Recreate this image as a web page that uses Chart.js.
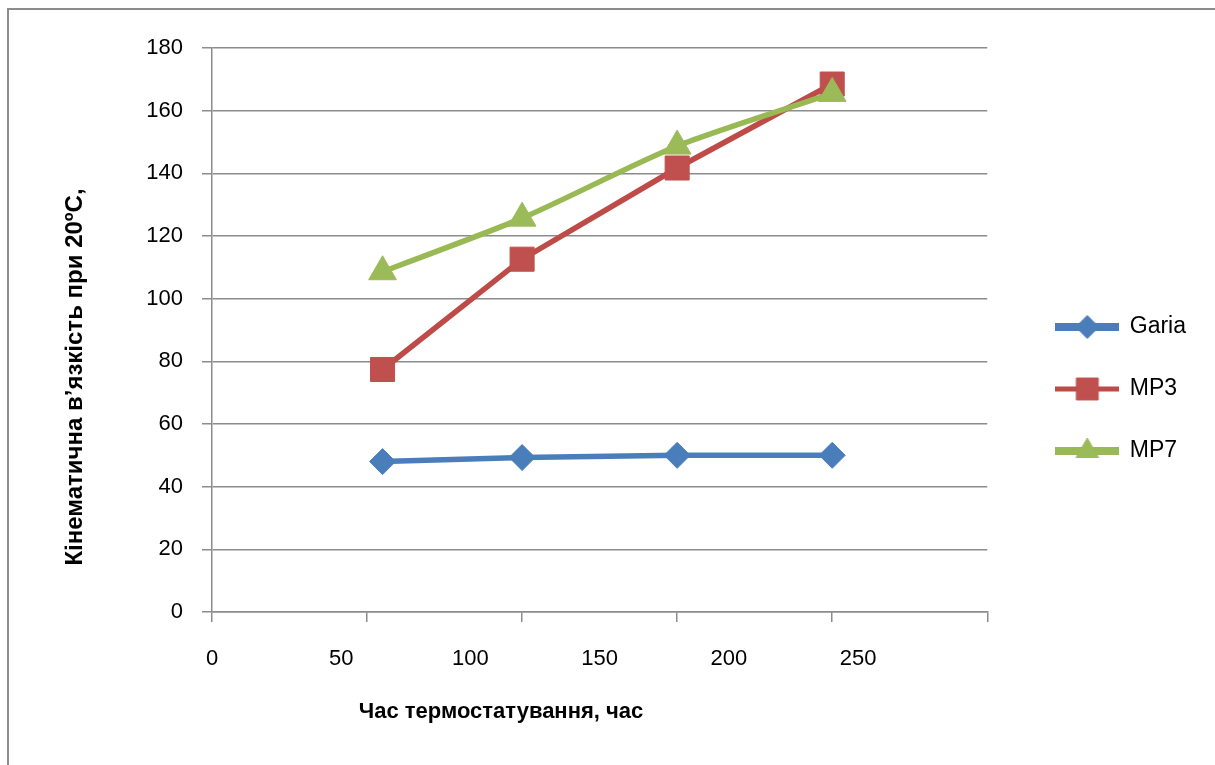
<!DOCTYPE html>
<html lang="uk">
<head>
<meta charset="utf-8">
<title>Кінематична в’язкість</title>
<script src="https://cdn.jsdelivr.net/npm/chart.js@4.4.1/dist/chart.umd.min.js"></script>
<style>
  html, body { margin: 0; padding: 0; background: #fff; overflow: hidden; }
  #wrap { position: relative; width: 1215px; height: 765px; }
  #frame {
    position: absolute; left: 7px; top: 8px; width: 1300px; height: 900px;
    border-left: 2px solid #8c8c8c; border-top: 2px solid #8c8c8c;
    pointer-events: none;
  }
  canvas { position: absolute; left: 0; top: 0; }
</style>
</head>
<body>
<div id="wrap">
  <canvas id="chart" width="1215" height="765"></canvas>
  <div id="frame"></div>
</div>
<script>
// Thermostating time, hours
const hours = [66, 120, 180, 240];

// Kinematic viscosity at 20 °C for each sample
const seriesNames = ['Garia', 'MP3', 'MP7'];
const gariaValues = [48.0, 49.3, 50.0, 50.0];
const mp3Values   = [77.4, 112.6, 141.7, 168.5];
const mp7Values   = [108.6, 125.7, 148.7, 165.5];

// Axis tick labels
const xTickValues = [0, 50, 100, 150, 200, 250];
const xTickMarks  = [0, 60, 120, 180, 240, 300];
const yTickValues = [0, 20, 40, 60, 80, 100, 120, 140, 160, 180];

const xTitle = 'Час термостатування, час';
const yTitle = 'Кінематична в’язкість при 20ºC,';

const GRID = '#8c8c8c';
const TICK_FONT = { family: '"Liberation Sans", Arial, sans-serif', size: 22 };
const LEGEND_FONT = { family: '"Liberation Sans", Arial, sans-serif', size: 23 };
const X_TITLE_FONT = 'bold 22px "Liberation Sans", Arial, sans-serif';
const Y_TITLE_FONT = 'bold 24px "Liberation Sans", Arial, sans-serif';

const styles = [
  { line: '#4A7EBB', mark: '#4A7EBB', shape: 'rectRot', r: 13, legendR: 11.5, legendLine: 8 },
  { line: '#BE4B48', mark: '#C0504D', shape: 'rect',    r: 17, legendR: 15.5, legendLine: 5 },
  { line: '#98B954', mark: '#9BBB59', shape: 'triangle', r: 16, legendR: 13,  legendLine: 8 }
];

// Legend icons: a short line segment with the series marker on it
function legendIcon(st) {
  const c = document.createElement('canvas');
  c.width = 64; c.height = 32;
  const g = c.getContext('2d');
  g.strokeStyle = st.line;
  g.lineWidth = st.legendLine;
  g.beginPath(); g.moveTo(0, 16); g.lineTo(64, 16); g.stroke();
  g.fillStyle = st.mark;
  g.strokeStyle = st.mark;
  g.lineWidth = 1;
  Chart.helpers.drawPoint(g, { pointStyle: st.shape, radius: st.legendR, borderWidth: 1, rotation: 0 }, 32, 16);
  return c;
}
const icons = styles.map(legendIcon);

function toPoints(values) {
  return values.map((v, i) => ({ x: hours[i], y: v }));
}

const seriesValues = [gariaValues, mp3Values, mp7Values];
const datasets = seriesValues.map((vals, i) => ({
  label: seriesNames[i],
  data: toPoints(vals),
  borderColor: styles[i].line,
  backgroundColor: styles[i].mark,
  borderWidth: 5.5,
  pointStyle: styles[i].shape,
  pointRadius: styles[i].r,
  pointHoverRadius: styles[i].r,
  pointBackgroundColor: styles[i].mark,
  pointBorderColor: styles[i].mark,
  pointBorderWidth: 1,
  tension: i === 2 ? 0.25 : 0,
  order: 3 - i,
  xAxisID: 'x',
  yAxisID: 'y'
}));

// Axis titles placed relative to the plot area
const axisTitles = {
  id: 'axisTitles',
  afterDraw(chart) {
    const { ctx, chartArea } = chart;
    ctx.save();
    ctx.fillStyle = '#000';
    ctx.textAlign = 'center';
    ctx.textBaseline = 'middle';
    ctx.font = X_TITLE_FONT;
    ctx.fillText(xTitle, chartArea.left + 289, chartArea.bottom + 100);
    ctx.font = Y_TITLE_FONT;
    ctx.translate(chartArea.left - 137, chartArea.top + 329);
    ctx.rotate(-Math.PI / 2);
    ctx.fillText(yTitle, 0, 0);
    ctx.restore();
  }
};

new Chart(document.getElementById('chart'), {
  type: 'line',
  data: { datasets },
  plugins: [axisTitles],
  options: {
    responsive: false,
    animation: false,
    devicePixelRatio: 1,
    layout: { padding: { top: 48, left: 0, right: 19, bottom: 35 } },
    plugins: {
      tooltip: { enabled: false },
      legend: {
        position: 'right',
        labels: {
          usePointStyle: true,
          pointStyleWidth: 62,
          padding: 39,
          color: '#000',
          font: LEGEND_FONT,
          sort: (a, b) => a.datasetIndex - b.datasetIndex,
          generateLabels(chart) {
            const items = Chart.defaults.plugins.legend.labels.generateLabels(chart);
            items.forEach(it => { it.pointStyle = icons[it.datasetIndex]; });
            return items;
          }
        }
      }
    },
    scales: {
      x: {
        type: 'linear',
        position: 'bottom',
        weight: 1,
        min: 0, max: 300,
        afterBuildTicks: s => { s.ticks = xTickValues.map(v => ({ value: v })); },
        afterFit: s => { s.height = 108; },
        grid: { display: false },
        border: { display: false },
        ticks: { color: '#000', font: TICK_FONT, padding: 16, maxRotation: 0 }
      },
      xMarks: {
        type: 'linear',
        position: 'bottom',
        weight: 0,
        min: 0, max: 300,
        afterBuildTicks: s => { s.ticks = xTickMarks.map(v => ({ value: v })); },
        grid: { drawOnChartArea: false, drawTicks: true, tickLength: 10, color: GRID, lineWidth: 1.5 },
        border: { display: true, color: GRID, width: 1.5 },
        ticks: { display: false }
      },
      y: {
        type: 'linear',
        position: 'left',
        min: 0, max: 180,
        afterBuildTicks: s => { s.ticks = yTickValues.map(v => ({ value: v })); },
        afterFit: s => { s.width = 212; },
        grid: { color: GRID, lineWidth: 1.5, drawTicks: true, tickLength: 10 },
        border: { display: true, color: GRID, width: 1.5 },
        ticks: { color: '#000', font: TICK_FONT, padding: 19 }
      },
      yGap: {
        type: 'linear',
        position: 'right',
        min: 0, max: 1,
        afterFit: s => { s.width = 30; },
        grid: { display: false, drawTicks: false },
        border: { display: false },
        ticks: { display: false }
      }
    }
  }
});
</script>
</body>
</html>
